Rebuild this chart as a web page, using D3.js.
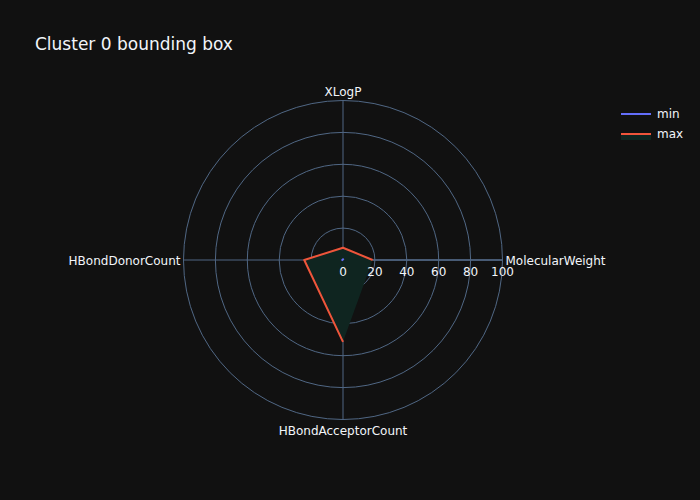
<!DOCTYPE html>
<html><head><meta charset="utf-8">
<script src="https://cdn.jsdelivr.net/npm/d3@7"></script>
<style>body{margin:0;background:#111111;} svg{display:block;}</style>
</head><body>
<script>
const categories = ["MolecularWeight", "XLogP", "HBondDonorCount", "HBondAcceptorCount"];
const minValues = [0.4, 0.4, 0.4, 0.4];
const maxValues = [18.6, 7.7, 24.3, 51.3];
const radialTicks = [0, 20, 40, 60, 80, 100];
const seriesNames = ["min", "max"];

const W = 700, H = 500;
const cx = 343, cy = 260, R = 159.5;
const font = "'DejaVu Sans', Verdana, sans-serif";
const txt = "#f2f5fa", grid = "#506784";

const svg = d3.select("body").append("svg").attr("width", W).attr("height", H)
  .style("font-family", font);
svg.append("rect").attr("width", W).attr("height", H).attr("fill", "#111111");

const r = d3.scaleLinear().domain([0, 100]).range([0, R]);
const angleOf = c => categories.indexOf(c) * 2 * Math.PI / categories.length;
const pt = (c, v) => [cx + r(v) * Math.cos(angleOf(c)), cy - r(v) * Math.sin(angleOf(c))];

const g = svg.append("g");
radialTicks.filter(t => t > 0).forEach(t => {
  g.append("circle").attr("cx", cx).attr("cy", cy).attr("r", r(t))
    .attr("fill", "none").attr("stroke", grid).attr("stroke-width", 1);
});
categories.forEach(c => {
  const [x, y] = pt(c, 100);
  g.append("line").attr("x1", cx).attr("y1", cy).attr("x2", x).attr("y2", y)
    .attr("stroke", grid).attr("stroke-width", 1);
});
g.append("line").attr("x1", cx).attr("y1", cy).attr("x2", cx + r(100)).attr("y2", cy)
  .attr("stroke", grid).attr("stroke-width", 1.5);

const lineGen = d3.line();
const maxPts = categories.map((c, i) => pt(c, maxValues[i]));
g.append("path").attr("d", lineGen(maxPts) + "Z").attr("fill", "#0f2520").attr("stroke", "none");

radialTicks.forEach(t => {
  g.append("text").attr("x", cx + r(t)).attr("y", cy + 16).attr("text-anchor", "middle")
    .attr("fill", txt).attr("font-size", 12).text(t);
});

const minPts = categories.map((c, i) => pt(c, minValues[i]));
g.append("path").attr("d", lineGen(minPts)).attr("fill", "none").attr("stroke", "#636efa").attr("stroke-width", 2);
g.append("path").attr("d", lineGen(maxPts)).attr("fill", "none").attr("stroke", "#EF553B").attr("stroke-width", 2)
  .attr("stroke-linejoin", "round");

const labelPos = [
  {dx: 3, dy: 5, anchor: "start"},
  {dx: 0, dy: -5, anchor: "middle"},
  {dx: -3, dy: 5, anchor: "end"},
  {dx: 0, dy: 15, anchor: "middle"}
];
categories.forEach((c, i) => {
  const [x, y] = pt(c, 100);
  g.append("text").attr("x", x + labelPos[i].dx).attr("y", y + labelPos[i].dy)
    .attr("text-anchor", labelPos[i].anchor).attr("fill", txt).attr("font-size", 12).text(c);
});

svg.append("text").attr("x", 35).attr("y", 50).attr("fill", txt).attr("font-size", 17)
  .text("Cluster 0 bounding box");

const colors = ["#636efa", "#EF553B"];
seriesNames.forEach((s, i) => {
  const y = 114 + i * 20;
  if (i === 1) {
    svg.append("rect").attr("x", 621).attr("y", y).attr("width", 30).attr("height", 6).attr("fill", "#0f2520");
  }
  svg.append("line").attr("x1", 621).attr("x2", 651).attr("y1", y).attr("y2", y)
    .attr("stroke", colors[i]).attr("stroke-width", 2);
  svg.append("text").attr("x", 657).attr("y", y + 4).attr("fill", txt).attr("font-size", 12).text(s);
});
</script>
</body></html>
